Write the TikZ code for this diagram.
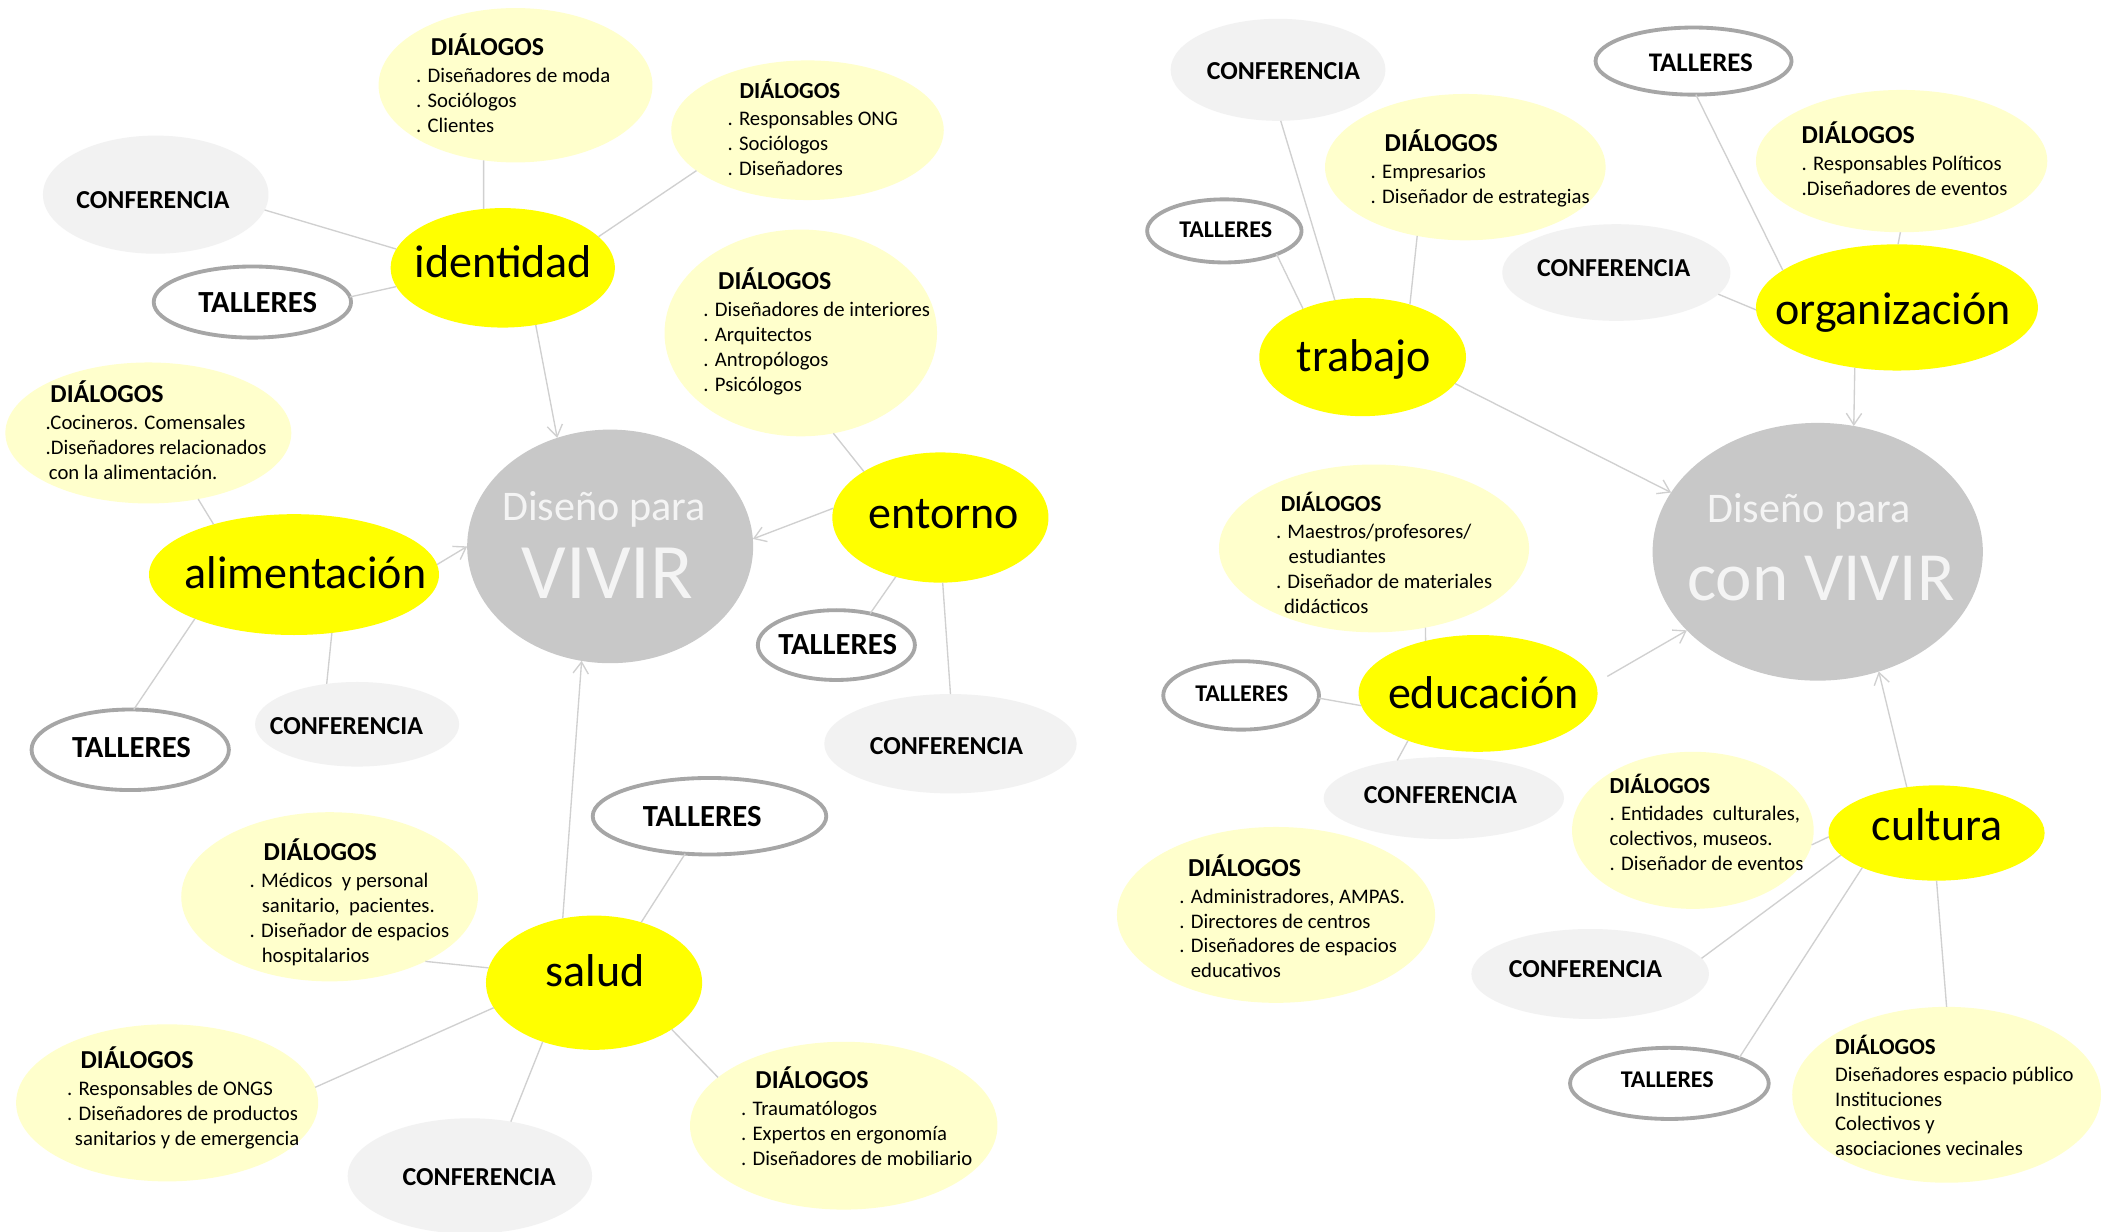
\documentclass[tikz,border=0pt]{standalone}
\usepackage{fontspec}
\setmainfont{Carlito}
\usetikzlibrary{shapes.geometric,arrows.meta}
\definecolor{yel}{HTML}{FFFF00}
\definecolor{dyel}{HTML}{FFFFCC}
\definecolor{cgray}{HTML}{F2F2F2}
\definecolor{bgray}{HTML}{C8C8C8}
\definecolor{tgray}{HTML}{A6A6A6}
\definecolor{lgray}{HTML}{D0D0D0}
\definecolor{wtxt}{HTML}{F4F4F4}
\newcommand\dhd[2]{\hspace*{#1}{\bfseries\fontsize{#2}{13}\selectfont DIÁLOGOS}}
\begin{document}
\begin{tikzpicture}[x=0.7pt,y=-0.7pt,
 every node/.style={inner sep=0pt,outer sep=0pt},
 sz/.style 2 args={minimum width=#1*1.4pt,minimum height=#2*1.4pt},
 dlg/.style={ellipse,fill=dyel},
 conf/.style={ellipse,fill=cgray},
 tall/.style={ellipse,fill=white,draw=tgray,line width=2pt},
 topic/.style={ellipse,fill=yel},
 bigell/.style={ellipse,fill=bgray},
 dtxt/.style={align=left,anchor=west,font=\fontsize{10.8}{13}\selectfont},
 ctxt/.style={font=\bfseries\fontsize{13.5}{14}\selectfont},
 ttxt/.style={font=\bfseries\fontsize{#1}{#1}\selectfont},
 toptxt/.style={anchor=base,font=\fontsize{24}{24}\selectfont},
 conn/.style={draw=lgray,line width=0.7pt},
 arr/.style={conn,-{Straight Barb[length=6pt,width=8pt]}},
]
\fill[white] (0,0) rectangle (1568,917);
\useasboundingbox (0,0) rectangle (1568,917);

% ---------- left map ----------
\node[bigell,sz={106.5}{87}] (V1) at (454.5,407) {};
\node[topic,sz={83.5}{44.5}] (iden) at (374.5,199.5) {};
\node[topic,sz={108}{45}] (alim) at (219,428) {};
\node[topic,sz={80.5}{48.5}] (ento) at (700.5,385.5) {};
\node[topic,sz={80.5}{50}] (salu) at (442.5,732) {};

\node[dlg,sz={102}{57.5}] (d1) at (384,63.5) {};
\node[dlg,sz={101.5}{52}] (d2) at (601.5,97) {};
\node[dlg,sz={101.5}{77}] (d3) at (596.5,248) {};
\node[dlg,sz={106.5}{52.5}] (d4) at (110.5,322.5) {};
\node[dlg,sz={110.5}{63}] (d5) at (245.5,668) {};
\node[dlg,sz={112.5}{58.5}] (d6) at (124.5,821.5) {};
\node[dlg,sz={114.5}{62.5}] (d7) at (628.5,838.5) {};

\node[conf,sz={84}{44}] (c1) at (116,145) {};
\node[conf,sz={76}{31.5}] (c3) at (266,539.5) {};
\node[conf,sz={94}{37}] (c2) at (708,554) {};
\node[conf,sz={91}{43}] (c4) at (350,876) {};

\node[tall,sz={73.5}{26.5}] (t1) at (188,225) {};
\node[tall,sz={73.5}{30}] (t3) at (97,558.5) {};
\node[tall,sz={58.5}{26}] (t2) at (623,480.5) {};
\node[tall,sz={87}{28.5}] (t4) at (528.5,608) {};

% ---------- right map ----------
\node[bigell,sz={123}{96}] (V2) at (1354,411) {};
\node[topic,sz={77}{44}] (trab) at (1015,266) {};
\node[topic,sz={105}{47}] (orga) at (1413,229) {};
\node[topic,sz={89}{43.5}] (educ) at (1101,516.5) {};
\node[topic,sz={80.5}{35.5}] (cult) at (1442.5,620.5) {};

\node[dlg,sz={104.5}{54.5}] (d8) at (1091.5,124.5) {};
\node[dlg,sz={108.5}{53}] (d9) at (1416.5,120) {};
\node[dlg,sz={115.5}{62.5}] (d10) at (1023.5,408.5) {};
\node[dlg,sz={118.5}{65.5}] (d13) at (950.5,681.5) {};
\node[dlg,sz={90}{58.5}] (d11) at (1261,618.5) {};
\node[dlg,sz={115}{65.5}] (d12) at (1450,815.5) {};

\node[conf,sz={80}{38}] (c5) at (952,52) {};
\node[conf,sz={85}{36}] (c6) at (1204,203) {};
\node[conf,sz={89.5}{30.5}] (c7) at (1075.5,594.5) {};
\node[conf,sz={88.5}{33.5}] (c8) at (1184.5,725.5) {};

\node[tall,sz={57.5}{23.5}] (t5) at (912,172) {};
\node[tall,sz={73}{25}] (t6) at (1261.5,45.5) {};
\node[tall,sz={58}{25.5}] (t7) at (924.5,518) {};
\node[tall,sz={74}{26.5}] (t8) at (1243.5,807) {};

% ---------- connectors ----------
\draw[arr] (iden.-60) -- (V1.116);
\draw[conn] (d1.-113) -- (iden.108);
\draw[conn] (d2.200) -- (iden.18);
\draw[conn] (c1.-8) -- (iden.170);
\draw[conn] (t1.3) -- (iden.190);
\draw[arr] (ento.175) -- (V1.3);
\draw[conn] (d3.-72) -- (ento.149);
\draw[conn] (t2.43) -- (ento.-127);
\draw[conn] (c2.90) -- (ento.-88);
\draw[arr] (alim.4) -- (V1.180);
\draw[conn] (d4.-53) -- (alim.148);
\draw[conn] (t3.85) -- (alim.-156);
\draw[conn] (c3.127) -- (alim.-57);
\draw[arr] (salu.116) -- (V1.-104);
\draw[conn] (t4.-123) -- (salu.52);
\draw[conn] (d5.-34) -- (salu.172);
\draw[conn] (d6.6) -- (salu.-166);
\draw[conn] (c4.53) -- (salu.-131);
\draw[conn] (d7.159) -- (salu.-31);
\draw[arr] (trab.-16) -- (V2.158);
\draw[conn] (c5.-87) -- (trab.116);
\draw[conn] (t5.-24) -- (trab.141);
\draw[conn] (d8.-125) -- (trab.48);
\draw[arr] (orga.-125) -- (V2.74);
\draw[conn] (t6.-86) -- (orga.162);
\draw[conn] (d9.-91) -- (orga.89);
\draw[conn] (c6.-12) -- (orga.181);
\draw[arr,shorten <=7pt] (educ.5) -- (V2.-149);
\draw[conn] (d10.-57) -- (educ.135);
\draw[conn] (t7.-2) -- (educ.-174);
\draw[conn] (c7.141) -- (educ.-146);
\draw[arr] (cult.123) -- (V2.-63);
\draw[conn] (d11.-7) -- (cult.182);
\draw[conn] (c8.8) -- (cult.-167);
\draw[conn] (t8.20) -- (cult.-155);
\draw[conn] (d12.90) -- (cult.-90);

% ---------- texts ----------
\node[anchor=base,text=wtxt,font=\fontsize{22}{22}\selectfont] (v1a) at (450,388) {Diseño para};
\node[anchor=base,text=wtxt,font=\fontsize{41}{41}\selectfont] (v1b) at (452.5,446) {VIVIR};
\node[anchor=base,text=wtxt,font=\fontsize{22}{22}\selectfont] (v2a) at (1347.5,389) {Diseño para};
\node[anchor=base,text=wtxt,font=\fontsize{36}{36}\selectfont] (v2b) at (1356.5,447) {con VIVIR};

\node[toptxt] (idt) at (375,207) {identidad};
\node[toptxt] (alt) at (227.5,438) {alimentación};
\node[toptxt] (ent) at (703,394) {entorno};
\node[toptxt] (sat) at (443.5,735) {salud};
\node[toptxt] (trt) at (1016,277) {trabajo};
\node[toptxt] (ort) at (1410,242) {organización};
\node[toptxt] (edt) at (1105,528) {educación};
\node[toptxt] (cut) at (1443,626) {cultura};

\node[ctxt] (c1t) at (114,149) {CONFERENCIA};
\node[ctxt] (c3t) at (258,541) {CONFERENCIA};
\node[ctxt] (c2t) at (705,556) {CONFERENCIA};
\node[ctxt] (c4t) at (357,877) {CONFERENCIA};
\node[ctxt] (c5t) at (956,53) {CONFERENCIA};
\node[ctxt] (c6t) at (1202,200) {CONFERENCIA};
\node[ctxt] (c7t) at (1073,592) {CONFERENCIA};
\node[ctxt] (c8t) at (1181,722) {CONFERENCIA};

\node[ttxt=16] (t1t) at (192,225) {TALLERES};
\node[ttxt=16] (t3t) at (98,557) {TALLERES};
\node[ttxt=16] (t2t) at (624,480) {TALLERES};
\node[ttxt=16] (t4t) at (523,608) {TALLERES};
\node[ttxt=12.5] (t5t) at (913,171) {TALLERES};
\node[ttxt=14] (t6t) at (1267,47) {TALLERES};
\node[ttxt=12.5] (t7t) at (925,517) {TALLERES};
\node[ttxt=12.5] (t8t) at (1242,804) {TALLERES};

\node[dtxt] (d1t) at (310,62) {\dhd{7.7pt}{13.5}\\[1pt]. Diseñadores de moda\\. Sociólogos\\. Clientes};
\node[dtxt] (d2t) at (542,95) {\dhd{6.3pt}{12}\\[1pt]. Responsables ONG\\. Sociólogos\\. Diseñadores};
\node[dtxt] (d3t) at (524,247) {\dhd{7.7pt}{13.5}\\[1pt]. Diseñadores de interiores\\. Arquitectos\\. Antropólogos\\. Psicólogos};
\node[dtxt] (d4t) at (34,320.5) {\dhd{2.5pt}{13.5}\\[1pt].Cocineros. Comensales\\.Diseñadores relacionados\\\hspace*{1.7pt}con la alimentación.};
\node[dtxt] (d5t) at (186,672) {\dhd{7.3pt}{13.5}\\[1pt]. Médicos\ \ y personal\\\hspace*{6.3pt}sanitario,\ \ pacientes.\\. Diseñador de espacios\\\hspace*{6.3pt}hospitalarios};
\node[dtxt] (d6t) at (50,818) {\dhd{7pt}{13.5}\\[1pt]. Responsables de ONGS\\. Diseñadores de productos\\\hspace*{4.1pt}sanitarios y de emergencia};
\node[dtxt] (d7t) at (552,831.5) {\dhd{7.5pt}{13.5}\\[1pt]. Traumatólogos\\. Expertos en ergonomía\\. Diseñadores de mobiliario};
\node[dtxt] (d8t) at (1021,125.5) {\dhd{7.3pt}{13.5}\\[1pt]. Empresarios\\. Diseñador de estrategias};
\node[dtxt] (d9t) at (1342,118) {\dhd{0pt}{13.5}\\[1pt]. Responsables Políticos\\.Diseñadores de eventos};
\node[dtxt] (d10t) at (950.5,412) {\dhd{2.5pt}{12}\\[1pt]. Maestros/profesores/\\\hspace*{6.6pt}estudiantes\\. Diseñador de materiales\\\hspace*{4.2pt}didácticos};
\node[dtxt] (d13t) at (878.5,682.5) {\dhd{4.5pt}{13.5}\\[1pt]. Administradores, AMPAS.\\. Directores de centros\\. Diseñadores de espacios\\\hspace*{6pt}educativos};
\node[dtxt] (d11t) at (1199,612.5) {\dhd{0pt}{12}\\[1pt]. Entidades\ \ culturales,\\colectivos, museos.\\. Diseñador de eventos};
\node[dtxt] (d12t) at (1367,816) {\dhd{0pt}{12}\\[1pt]Diseñadores espacio público\\Instituciones\\Colectivos y\\asociaciones vecinales};
\end{tikzpicture}
\end{document}
